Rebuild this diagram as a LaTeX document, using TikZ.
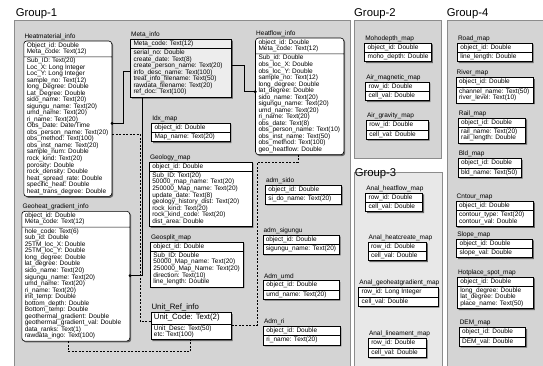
\documentclass[tikz,border=0pt]{standalone}
\usepackage{fontspec}
\setmainfont{Liberation Sans}
\usetikzlibrary{shapes.multipart, shadows}

\newcommand{\tabfont}{\fontsize{6.5}{6.08}\selectfont}
\newcommand{\bigtabfont}{\fontsize{7.8}{8.5}\selectfont}
\newcommand{\grpfont}{\fontsize{11.3}{13}\selectfont}
\newcommand{\rows}[1]{\begin{tabular}{@{}l@{}}#1\end{tabular}}

\tikzset{
tbl/.style={rectangle split, rectangle split parts=2, rectangle split part align={left},
  draw, fill=white, anchor=north west, inner xsep=3pt, inner ysep=1.1pt,
  font=\tabfont, line width=0.6pt,
  drop shadow={shadow xshift=1.4pt, shadow yshift=-1.4pt, opacity=1, fill=black!60}}, % one table
rtbl/.style={tbl, rounded corners=3pt}, % table with round corners
ttl/.style={anchor=south west, inner sep=0.8pt, font=\tabfont}, % table name above the box
grp/.style={draw=black!45, fill=black!17}, % group panel
grplbl/.style={anchor=base west, inner sep=0pt, font=\grpfont}, % group title
rel/.style={line width=0.6pt}, % solid relation
dref/.style={line width=0.6pt, dash pattern=on 2pt off 1.5pt}, % dashed relation
}

\begin{document}
\begin{tikzpicture}[x=1pt, y=-1pt]
\clip (0,0) rectangle (543,365);
\fill[white] (0,0) rectangle (543,365);

% panels
\draw[grp] (14.5,20) rectangle (350,370);
\draw[grp] (354,20) rectangle (441.5,158);
\draw[grp, fill=black!9] (354,172) rectangle (442,370);
\draw[grp] (447,20) rectangle (560,370);
\node[grplbl] (g1) at (15.6,16) {Group-1};
\node[grplbl] (g2) at (354,16) {Group-2};
\node[grplbl] (g3) at (354.6,176.7) {Group-3};
\node[grplbl] (g4) at (446.7,16) {Group-4};

% Group-1
\node[rtbl, minimum width=88pt, label={[ttl]north west:Heatmaterial\_info}] (hmat) at (23.5,40.7)
{\rows{Object\_id: Double\\Meta\_code: Text(12)}
\nodepart{two}\rows{Sub\_ID: Text(20)\\Loc\_X: Long Integer\\Loc\_Y: Long Integer\\sample\_no: Text(12)\\long\_Degree: Double\\Lat\_Degree: Double\\sido\_name: Text(20)\\sigungu\_name: Text(20)\\umd\_name: Text(20)\\ri\_name: Text(20)\\Obs\_Date: Date/Time\\obs\_person\_name: Text(20)\\obs\_method: Text(100)\\obs\_inst\_name: Text(20)\\sample\_num: Double\\rock\_kind: Text(20)\\porosity: Double\\rock\_density: Double\\heat\_spread\_rate: Double\\specific\_heat: Double\\heat\_trans\_degree: Double}};
\node[tbl, fill=black!7, minimum width=101pt, label={[ttl]north west:Meta\_info}] (meta) at (130.2,39)
{\rows{Meta\_code: Text(12)}
\nodepart{two}\rows{serial\_no: Double\\create\_date: Text(8)\\create\_person\_name: Text(20)\\info\_desc\_name: Text(100)\\treat\_info\_filename: Text(50)\\rawdata\_filename: Text(20)\\ref\_doc: Text(100)}};
\node[rtbl, minimum width=88.3pt, label={[ttl]north west:Heatflow\_info}] (hflow) at (255.2,37.7)
{\rows{object\_id: Double\\Meta\_code: Text(12)}
\nodepart{two}\rows{Sub\_id: Double\\obs\_loc\_X: Double\\obs\_loc\_Y: Double\\sample\_no: Text(12)\\long\_degree: Double\\lat\_degree: Double\\sido\_name: Text(20)\\sigungu\_name: Text(20)\\umd\_name: Text(20)\\ri\_name: Text(20)\\obs\_date: Text(8)\\obs\_person\_name: Text(10)\\obs\_inst\_name: Text(50)\\obs\_method: Text(100)\\geo\_heatflow: Double}};
\node[tbl, minimum width=78.3pt, label={[ttl]north west:Idx\_map}] (idx) at (151.3,122.7)
{\rows{object\_id: Double}\nodepart{two}\rows{Map\_name: Text(20)}};
\node[tbl, minimum width=102.7pt, label={[ttl]north west:Geology\_map}] (geol) at (149,161.7)
{\rows{object\_id: Double}
\nodepart{two}\rows{Sub\_ID: Text(20)\\50000\_map\_name: Text(20)\\250000\_Map\_name: Text(20)\\update\_date: Text(8)\\geology\_history\_dist: Text(20)\\rock\_kind: Text(20)\\rock\_kind\_code: Text(20)\\dist\_area: Double}};
\node[tbl, minimum width=91.3pt, label={[ttl]north west:Geosplit\_map}] (gsplit) at (150,241.7)
{\rows{object\_id: Double}
\nodepart{two}\rows{Sub\_ID: Double\\50000\_Map\_name: Text(20)\\250000\_Map\_Name: Text(20)\\direction: Text(10)\\line\_length: Double}};
\node[tbl, minimum width=80.4pt, label={[ttl, font=\bigtabfont]north west:Unit\_Ref\_info}] (unitref) at (150.6,312.3)
{\bigtabfont\rows{Unit\_Code: Text(2)}
\nodepart{two}\rows{Unit\_Desc: Text(50)\\etc: Text(100)}};
\node[rtbl, minimum width=108pt, label={[ttl]north west:Geoheat\_gradient\_info}] (ggrad) at (21.5,211)
{\rows{object\_id: Double\\Meta\_code: Text(12)}
\nodepart{two}\rows{hole\_code: Text(6)\\sub\_id: Double\\25TM\_loc\_X: Double\\25TM\_loc\_Y: Double\\long\_degree: Double\\lat\_degree: Double\\sido\_name: Text(20)\\sigungu\_name: Text(20)\\umd\_name: Text(20)\\ri\_name: Text(20)\\init\_temp: Double\\bottom\_depth: Double\\Bottom\_temp: Double\\geothermal\_gradient: Double\\geothermal\_gradient\_val: Double\\data\_ranks: Text(1)\\rawdata\_ingo: Text(100)}};
\node[tbl, minimum width=76pt, label={[ttl]north west:adm\_sido}] (sido) at (265,185)
{\rows{object\_id: Double}\nodepart{two}\rows{si\_do\_name: Text(20)}};
\node[tbl, minimum width=76pt, label={[ttl]north west:adm\_sigungu}] (sigungu) at (262.5,235)
{\rows{object\_id: Double}\nodepart{two}\rows{sigungu\_name: Text(20)}};
\node[tbl, minimum width=75.6pt, label={[ttl]north west:Adm\_umd}] (umd) at (263,280.3)
{\rows{object\_id: Double}\nodepart{two}\rows{umd\_name: Text(20)}};
\node[tbl, minimum width=76.7pt, label={[ttl]north west:Adm\_ri}] (ri) at (263,326)
{\rows{object\_id: Double}\nodepart{two}\rows{ri\_name: Text(20)}};

% relations
\coordinate (c1) at (123.6,123.3);
\coordinate (c2) at (123.6,71.7);
\draw[rel] (hmat.east |- c1) -- (c1) -- (c2) -- (meta.west |- c2);
\fill (hmat.east |- c1) circle (1.6pt);
\coordinate (c3) at (244,65.7);
\coordinate (c4) at (244,91.7);
\draw[rel] (meta.east |- c3) -- (c3) -- (c4) -- (hflow.west |- c4);
\fill (hflow.west |- c4) circle (1.6pt);
\coordinate (c5) at (142.7,275.7);
\draw[rel] (meta.south -| c5) -- (c5) -- (ggrad.east |- c5);
\fill (ggrad.east |- c5) circle (1.6pt);
\coordinate (d1) at (140,134.3);
\coordinate (d2) at (140,321.7);
\draw[dref] (hmat.east |- d1) -- (d1) -- (d2) -- (unitref.west |- d2);
\coordinate (d3) at (298,162.3);
\coordinate (d4) at (257.5,162.3);
\coordinate (d5) at (257.5,325);
\draw[dref] (hflow.south -| d3) -- (d3) -- (d4) -- (d5) -- (unitref.east |- d5);
\coordinate (d6) at (68.2,351.7);
\coordinate (d7) at (190.4,351.7);
\draw[dref] (ggrad.south -| d6) -- (d6) -- (d7) -- (unitref.south -| d7);

% Group-2
\node[tbl, minimum width=65pt, label={[ttl]north west:Mohodepth\_map}] (moho) at (364.3,42.7)
{\rows{object\_id: Double}\nodepart{two}\rows{moho\_depth: Double}};
\node[tbl, minimum width=63.4pt, label={[ttl]north west:Air\_magnetic\_map}] (airmag) at (365.3,81.7)
{\rows{row\_id: Double}\nodepart{two}\rows{cell\_val: Double}};
\node[tbl, minimum width=62pt, label={[ttl]north west:Air\_gravity\_map}] (airgrav) at (366,120.3)
{\rows{row\_id: Double}\nodepart{two}\rows{cell\_val: Double}};

% Group-3
\node[tbl, minimum width=57pt, label={[ttl]north west:Anal\_heatflow\_map}] (aheat) at (365.3,192.7)
{\rows{row\_id: Double}\nodepart{two}\rows{cell\_val: Double}};
\node[tbl, minimum width=58.5pt, label={[ttl]north west:Anal\_heatcreate\_map}] (acreate) at (367.7,241.7)
{\rows{row\_id: Double}\nodepart{two}\rows{cell\_val: Double}};
\node[tbl, minimum width=79.3pt, label={[ttl]north west:Anal\_geoheatgradient\_map}] (agrad) at (358.4,287.3)
{\rows{row\_id: Long Integer}\nodepart{two}\rows{cell\_val: Double}};
\node[tbl, minimum width=58pt, label={[ttl]north west:Anal\_lineament\_map}] (aline) at (368,338.3)
{\rows{row\_id: Double}\nodepart{two}\rows{cell\_val: Double}};

% Group-4
\node[tbl, minimum width=75pt, label={[ttl]north west:Road\_map}] (road) at (457,42.7)
{\rows{object\_id: Double}\nodepart{two}\rows{line\_length: Double}};
\node[tbl, minimum width=77.5pt, label={[ttl]north west:River\_map}] (river) at (455.7,77.3)
{\rows{object\_id: Double}\nodepart{two}\rows{channel\_name: Text(50)\\river\_level: Text(10)}};
\node[tbl, minimum width=67.5pt, label={[ttl]north west:Rail\_map}] (rail) at (457.8,117.7)
{\rows{object\_id: Double}\nodepart{two}\rows{rail\_name: Text(20)\\rail\_length: Double}};
\node[tbl, minimum width=63pt, label={[ttl]north west:Bld\_map}] (bld) at (457.8,158.3)
{\rows{object\_id: Double}\nodepart{two}\rows{bld\_name: Text(50)}};
\node[tbl, minimum width=77.5pt, label={[ttl]north west:Cntour\_map}] (cntour) at (455.7,201)
{\rows{object\_id: Double}\nodepart{two}\rows{contour\_type: Text(20)\\contour\_val: Double}};
\node[tbl, minimum width=75.8pt, label={[ttl]north west:Slope\_map}] (slope) at (456.4,238.7)
{\rows{object\_id: Double}\nodepart{two}\rows{slope\_val: Double}};
\node[tbl, minimum width=76.2pt, label={[ttl]north west:Hotplace\_spot\_map}] (hotpl) at (457,276.7)
{\rows{object\_id: Double}\nodepart{two}\rows{long\_degree: Double\\lat\_degree: Double\\place\_name: Text(50)}};
\node[tbl, minimum width=66.5pt, label={[ttl]north west:DEM\_map}] (dem) at (458.8,327.3)
{\rows{object\_id: Double}\nodepart{two}\rows{DEM\_val: Double}};
\end{tikzpicture}
\end{document}
